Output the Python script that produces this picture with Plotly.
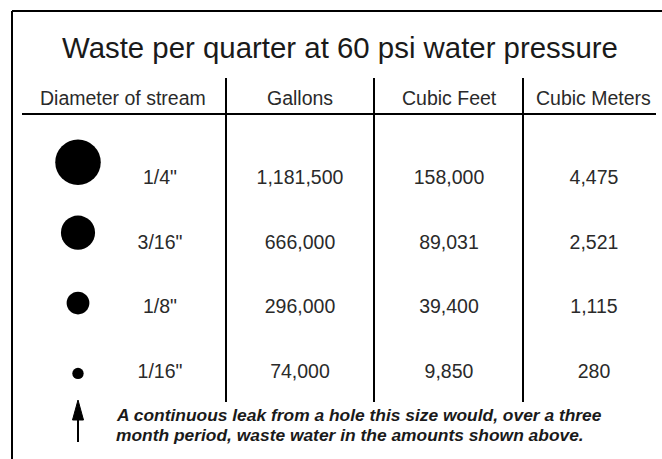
import plotly.graph_objects as go

# ---- data ----
title_text = "Waste per quarter at 60 psi water pressure"
headers = ["Diameter of stream", "Gallons", "Cubic Feet", "Cubic Meters"]
diam_labels = ['1/4"', '3/16"', '1/8"', '1/16"']
diam_inches = [0.25, 0.1875, 0.125, 0.0625]
gallons = [1181500, 666000, 296000, 74000]
cubic_feet = [158000, 89031, 39400, 9850]
cubic_meters = [4475, 2521, 1115, 280]
note_lines = ["A continuous leak from a hole this size would, over a three",
              "month period, waste water in the amounts shown above."]

# ---- layout constants (pixel space) ----
W, H = 662, 459
FONT = "Liberation Sans, Arial, Helvetica, sans-serif"
TXT = "#2a2a2a"
col_circle = 78
col_x = [160, 300, 449, 594]       # label, gallons, cubic feet, cubic meters
header_x = [123, 300, 449, 593]
row_base0, row_step = 185.0, 64.7  # text baseline of first row, row spacing
px_per_inch = 182

rows = list(range(len(diam_labels)))
baselines = [row_base0 + row_step * i for i in rows]
text_y = [b - 6 for b in baselines]
sizes = [d * px_per_inch for d in diam_inches]
circle_y = [b - s / 2 for b, s in zip(baselines, sizes)]

fig = go.Figure()

# circles showing stream diameter
fig.add_trace(go.Scatter(
    x=[col_circle] * len(rows), y=circle_y, mode="markers",
    marker=dict(size=sizes, color="black", opacity=1, line=dict(width=0)),
    hoverinfo="skip", showlegend=False))

# table columns
columns = [diam_labels,
           [f"{v:,}" for v in gallons],
           [f"{v:,}" for v in cubic_feet],
           [f"{v:,}" for v in cubic_meters]]
for cx, vals in zip(col_x, columns):
    fig.add_trace(go.Scatter(
        x=[cx] * len(vals), y=text_y, mode="text", text=vals,
        textposition="middle center",
        textfont=dict(family=FONT, size=19.5, color=TXT),
        hoverinfo="skip", showlegend=False))

annotations = [dict(x=340, y=47, text=title_text, showarrow=False,
                    xanchor="center", yanchor="middle",
                    font=dict(family=FONT, size=29.4, color="#1a1a1a"))]
for hx, h in zip(header_x, headers):
    annotations.append(dict(x=hx, y=98, text=h, showarrow=False,
                            xanchor="center", yanchor="middle",
                            font=dict(family=FONT, size=19.5, color=TXT)))
for i, line in enumerate(note_lines):
    annotations.append(dict(x=114, y=415 + 20 * i, text=f"<b><i>{line}</i></b>",
                            showarrow=False, xanchor="left", yanchor="middle",
                            font=dict(family=FONT, size=17.4, color="#1a1a1a")))

line_style = dict(color="black", width=2)
shapes = [
    # frame
    dict(type="line", x0=12, y0=11, x1=W, y1=11, line=line_style),
    dict(type="line", x0=12, y0=11, x1=12, y1=H, line=line_style),
    # header rule
    dict(type="line", x0=22, y0=114, x1=656, y1=114, line=line_style),
    # column separators
    dict(type="line", x0=226, y0=78, x1=226, y1=402, line=line_style),
    dict(type="line", x0=374, y0=78, x1=374, y1=402, line=line_style),
    dict(type="line", x0=523, y0=78, x1=523, y1=402, line=line_style),
    # arrow
    dict(type="line", x0=78, y0=418, x1=78, y1=442, line=line_style),
    dict(type="path", path="M 78 400 L 72.5 420 L 83.5 420 Z",
         fillcolor="black", line=dict(color="black", width=1)),
]

fig.update_layout(
    width=W, height=H, margin=dict(l=0, r=0, t=0, b=0),
    paper_bgcolor="white", plot_bgcolor="white",
    xaxis=dict(range=[0, W], visible=False, fixedrange=True),
    yaxis=dict(range=[H, 0], visible=False, fixedrange=True),
    annotations=annotations, shapes=shapes,
)

fig.write_html("out.html", config={"displayModeBar": False},
               post_script="document.body.style.margin='0px';")
